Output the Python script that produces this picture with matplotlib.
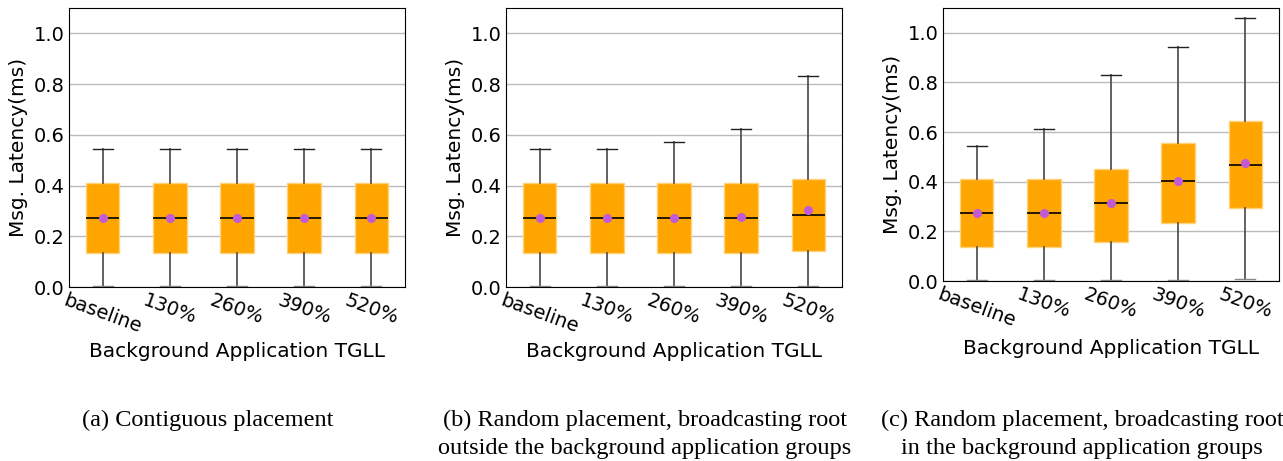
import matplotlib
matplotlib.use("Agg")
import matplotlib.pyplot as plt

labels = ["baseline", "130%", "260%", "390%", "520%"]

# panel (a) contiguous placement
a_lo = [0.003, 0.003, 0.003, 0.003, 0.003]
a_q1 = [0.135, 0.135, 0.135, 0.135, 0.135]
a_med = [0.272, 0.272, 0.272, 0.272, 0.272]
a_q3 = [0.410, 0.410, 0.410, 0.410, 0.410]
a_hi = [0.543, 0.543, 0.543, 0.543, 0.543]
a_mean = [0.272, 0.272, 0.272, 0.272, 0.272]

# panel (b) random, root outside
b_lo = [0.003, 0.003, 0.003, 0.003, 0.003]
b_q1 = [0.135, 0.135, 0.135, 0.135, 0.140]
b_med = [0.272, 0.272, 0.272, 0.274, 0.283]
b_q3 = [0.410, 0.410, 0.410, 0.411, 0.427]
b_hi = [0.543, 0.543, 0.573, 0.623, 0.830]
b_mean = [0.272, 0.272, 0.272, 0.275, 0.302]

# panel (c) random, root inside
c_lo = [0.003, 0.003, 0.003, 0.006, 0.008]
c_q1 = [0.136, 0.136, 0.156, 0.234, 0.296]
c_med = [0.274, 0.274, 0.313, 0.403, 0.468]
c_q3 = [0.410, 0.410, 0.452, 0.558, 0.644]
c_hi = [0.544, 0.613, 0.831, 0.942, 1.058]
c_mean = [0.272, 0.272, 0.316, 0.404, 0.476]

captions = ["(a) Contiguous placement",
            "(b) Random placement, broadcasting root\noutside the background application groups",
            "(c) Random placement, broadcasting root\nin the background application groups"]

W, H = 1283, 461
fig = plt.figure(figsize=(W / 100, H / 100), dpi=100)

panels = [
    (a_lo, a_q1, a_med, a_q3, a_hi, a_mean),
    (b_lo, b_q1, b_med, b_q3, b_hi, b_mean),
    (c_lo, c_q1, c_med, c_q3, c_hi, c_mean),
]
# left, right, top, bottom in pixels
boxes_px = [(69, 405, 8, 287), (506, 842, 8, 287), (943, 1279, 8, 281)]
xlabel_y = [351, 351, 348]
cap_x = [208, 645, 1082]

for i, (lo, q1, med, q3, hi, mean) in enumerate(panels):
    l, r, t, b = boxes_px[i]
    ax = fig.add_axes([l / W, 1 - b / H, (r - l) / W, (b - t) / H])
    stats = []
    for j in range(len(labels)):
        stats.append(dict(whislo=lo[j], q1=q1[j], med=med[j], q3=q3[j],
                          whishi=hi[j], mean=mean[j], fliers=[]))
    res = ax.bxp(stats, positions=range(1, 6), widths=0.5, patch_artist=True,
                 showmeans=True, capwidths=0.3,
                 boxprops=dict(facecolor="orange", edgecolor="#ffd27a", linewidth=1),
                 medianprops=dict(color="black", linewidth=1.2),
                 whiskerprops=dict(color="#555555", linewidth=1.3),
                 capprops=dict(color="#222222", linewidth=1.0),
                 meanprops=dict(marker="o", markerfacecolor="#c15ad6",
                                markeredgecolor="#c15ad6", markersize=5.5))
    # lower caps are drawn lighter in the original
    for cap in res["caps"][0::2]:
        cap.set_color("#888888")
    ax.set_xlim(0.5, 5.5)
    ax.set_ylim(0, 1.1)
    ax.set_yticks([0.0, 0.2, 0.4, 0.6, 0.8, 1.0])
    ax.yaxis.grid(True, color="#bbbbbb", linewidth=1)
    ax.set_axisbelow(True)
    ax.set_xticks(range(1, 6))
    ax.set_xticklabels(labels, rotation=-20, fontsize=14)
    ax.tick_params(axis="y", labelsize=14, length=0, pad=3)
    ax.tick_params(axis="x", length=0, pad=3)
    ax.set_ylabel("Msg. Latency(ms)", fontsize=14.5)
    ax.set_xlabel("Background Application TGLL", fontsize=14.5, va="center")
    ax.xaxis.set_label_coords(0.5, (b - xlabel_y[i]) / (b - t))
    fig.text(cap_x[i] / W, 1 - 410 / H, captions[i], ha="center", va="top",
             fontsize=17.5, family="Liberation Serif", linespacing=1.45)

fig.savefig("out.png", dpi=100)
